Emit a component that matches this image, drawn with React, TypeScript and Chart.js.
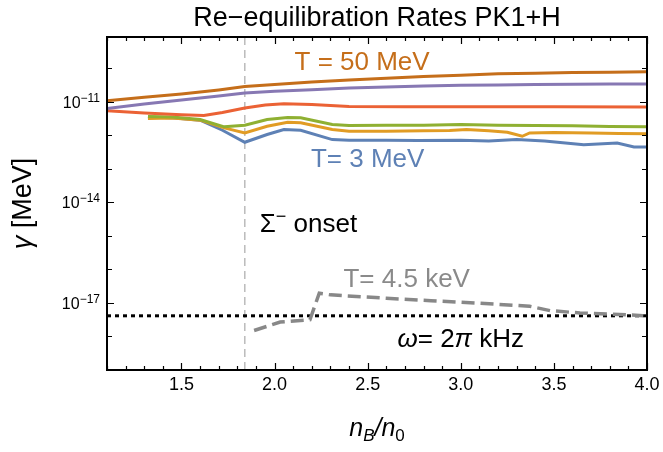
import React, { useEffect, useRef } from 'react';
import { Chart, registerables } from 'chart.js';

Chart.register(...registerables);

const FONT = '"Liberation Sans", Arial, Helvetica, sans-serif';

// ---- data (x = n_B/n_0, y = gamma [MeV]) ----
const brownX = [1.1, 1.3, 1.5, 1.7, 1.84, 2.0, 2.2, 2.4, 2.6, 2.8, 3.0, 3.2, 3.4, 3.6, 3.8, 4.0];
const brownY = [1.07e-11, 1.35e-11, 1.7e-11, 2.24e-11, 2.82e-11, 3.24e-11, 3.89e-11, 4.47e-11, 5.01e-11, 5.62e-11, 6.17e-11, 6.76e-11, 7.08e-11, 7.41e-11, 7.59e-11, 7.76e-11];

const purpleX = [1.1, 1.3, 1.5, 1.7, 1.84, 2.0, 2.2, 2.4, 2.6, 2.8, 3.0, 3.2, 3.4, 3.6, 3.8, 4.0];
const purpleY = [6.31e-12, 8.51e-12, 1.12e-11, 1.48e-11, 1.82e-11, 2.04e-11, 2.29e-11, 2.57e-11, 2.75e-11, 2.95e-11, 3.09e-11, 3.16e-11, 3.24e-11, 3.31e-11, 3.39e-11, 3.39e-11];

const redX = [1.1, 1.3, 1.5, 1.62, 1.72, 1.84, 1.95, 2.05, 2.2, 2.4, 2.7, 3.0, 3.5, 4.0];
const redY = [5.37e-12, 4.57e-12, 4.07e-12, 3.89e-12, 4.79e-12, 6.46e-12, 7.94e-12, 8.71e-12, 8.32e-12, 7.24e-12, 7.08e-12, 7.08e-12, 7.08e-12, 6.92e-12];

const greenX = [1.32, 1.45, 1.6, 1.73, 1.84, 1.96, 2.07, 2.14, 2.31, 2.4, 2.6, 2.8, 3.0, 3.2, 3.4, 3.6, 3.8, 4.0];
const greenY = [3.63e-12, 3.47e-12, 2.95e-12, 1.78e-12, 2.0e-12, 2.95e-12, 3.39e-12, 3.31e-12, 2.09e-12, 1.95e-12, 2.0e-12, 2.0e-12, 2.09e-12, 2.0e-12, 1.95e-12, 1.91e-12, 1.82e-12, 1.78e-12];

const orangeX = [1.32, 1.45, 1.6, 1.73, 1.84, 1.96, 2.07, 2.14, 2.31, 2.4, 2.6, 2.8, 2.94, 3.03, 3.15, 3.25, 3.33, 3.37, 3.5, 3.7, 3.85, 4.0];
const orangeY = [3.16e-12, 3.24e-12, 2.82e-12, 1.66e-12, 1.17e-12, 1.86e-12, 2.45e-12, 2.34e-12, 1.48e-12, 1.32e-12, 1.32e-12, 1.35e-12, 1.38e-12, 1.48e-12, 1.35e-12, 1.23e-12, 9.33e-13, 1.17e-12, 1.2e-12, 1.17e-12, 1.12e-12, 1.1e-12];

const blueX = [1.32, 1.45, 1.6, 1.72, 1.84, 1.96, 2.05, 2.14, 2.31, 2.4, 2.6, 2.77, 3.0, 3.15, 3.3, 3.45, 3.66, 3.84, 3.93, 4.0];
const blueY = [3.47e-12, 3.31e-12, 2.82e-12, 1.41e-12, 6.17e-13, 1.05e-12, 1.48e-12, 1.41e-12, 7.41e-13, 7.08e-13, 7.08e-13, 6.92e-13, 7.08e-13, 6.76e-13, 7.41e-13, 6.76e-13, 5.25e-13, 5.89e-13, 4.47e-13, 4.47e-13];

const grayX = [1.89, 2.03, 2.19, 2.24, 2.3, 2.6, 2.84, 3.1, 3.37, 3.48, 3.64, 3.8, 3.98];
const grayY = [1.51e-18, 2.69e-18, 3.16e-18, 1.95e-17, 1.74e-17, 1.38e-17, 1.17e-17, 9.77e-18, 7.94e-18, 5.89e-18, 5.01e-18, 4.68e-18, 4.17e-18];

const omegaLevel = 4.13e-18; // hbar * 2pi kHz in MeV
const onsetX = 1.84;

const xMin = 1.1;
const xMax = 4.0;
const yMin = 1e-19;
const yMax = 8.5e-10;

const xMajorTicks = [1.5, 2.0, 2.5, 3.0, 3.5, 4.0];
const xTickLabels = ['1.5', '2.0', '2.5', '3.0', '3.5', '4.0'];
const yDecades = [-19, -18, -17, -16, -15, -14, -13, -12, -11, -10];
const yLabelExponents = [-11, -14, -17];

const colors = {
  brown: '#C56E1A',
  purple: '#8778B3',
  red: '#EB6235',
  green: '#8FB032',
  orange: '#E19C24',
  blue: '#5E81B5',
  gray: '#8a8a8a',
};

function pts(xs: number[], ys: number[]) {
  return xs.map((x, i) => ({ x, y: ys[i] }));
}

type Part = { t: string; size: number; italic?: boolean; dy?: number };

function drawParts(
  ctx: CanvasRenderingContext2D,
  parts: Part[],
  x: number,
  y: number,
  align: 'left' | 'center' | 'right',
  color: string
) {
  ctx.textAlign = 'left';
  ctx.textBaseline = 'alphabetic';
  ctx.fillStyle = color;
  const widths = parts.map((p) => {
    ctx.font = `${p.italic ? 'italic ' : ''}${p.size}px ${FONT}`;
    return ctx.measureText(p.t).width;
  });
  const total = widths.reduce((a, b) => a + b, 0);
  let cx = align === 'center' ? x - total / 2 : align === 'right' ? x - total : x;
  parts.forEach((p, i) => {
    ctx.font = `${p.italic ? 'italic ' : ''}${p.size}px ${FONT}`;
    ctx.fillText(p.t, cx, y + (p.dy || 0));
    cx += widths[i];
  });
}

const decorPlugin = {
  id: 'decor',
  afterDatasetsDraw(chart: any) {
    const { ctx, chartArea: a, scales } = chart;
    const xs = scales.x;
    const ys = scales.y;
    ctx.save();

    // frame
    ctx.strokeStyle = '#000';
    ctx.lineWidth = 2;
    ctx.strokeRect(a.left, a.top, a.right - a.left, a.bottom - a.top);

    // x ticks
    ctx.lineWidth = 1.2;
    for (let i = 11; i <= 40; i++) {
      const v = i / 10;
      const px = Math.round(xs.getPixelForValue(v)) + 0.5;
      const len = i % 5 === 0 ? 7 : 4;
      ctx.beginPath();
      ctx.moveTo(px, a.bottom);
      ctx.lineTo(px, a.bottom - len);
      ctx.moveTo(px, a.top);
      ctx.lineTo(px, a.top + len);
      ctx.stroke();
    }
    // y ticks
    yDecades.forEach((e) => {
      const py = Math.round(ys.getPixelForValue(Math.pow(10, e))) + 0.5;
      if (py < a.top + 1 || py > a.bottom - 1) return;
      const len = yLabelExponents.includes(e) ? 7 : 5;
      ctx.beginPath();
      ctx.moveTo(a.left, py);
      ctx.lineTo(a.left + len, py);
      ctx.moveTo(a.right, py);
      ctx.lineTo(a.right - len, py);
      ctx.stroke();
    });

    // x tick labels
    xMajorTicks.forEach((v, i) => {
      const px = xs.getPixelForValue(v);
      drawParts(ctx, [{ t: xTickLabels[i], size: 18 }], px, a.bottom + 20, 'center', '#000');
    });
    // y tick labels
    yLabelExponents.forEach((e) => {
      const py = ys.getPixelForValue(Math.pow(10, e));
      drawParts(
        ctx,
        [
          { t: '10', size: 16 },
          { t: '\u2212' + String(Math.abs(e)), size: 12, dy: -6 },
        ],
        a.left - 7,
        py + 6,
        'right',
        '#000'
      );
    });

    // title
    drawParts(ctx, [{ t: 'Re\u2212equilibration Rates PK1+H', size: 27 }], (a.left + a.right) / 2, 26, 'center', '#000');

    // axis titles
    drawParts(
      ctx,
      [
        { t: 'n', size: 25, italic: true },
        { t: 'B', size: 17, italic: true, dy: 5 },
        { t: '/', size: 25, italic: true },
        { t: 'n', size: 25, italic: true },
        { t: '0', size: 17, dy: 5 },
      ],
      (a.left + a.right) / 2,
      436,
      'center',
      '#000'
    );
    ctx.save();
    ctx.translate(31, (a.top + a.bottom) / 2);
    ctx.rotate(-Math.PI / 2);
    drawParts(
      ctx,
      [
        { t: '\u03B3', size: 27, italic: true },
        { t: ' [MeV]', size: 27 },
      ],
      0,
      0,
      'center',
      '#000'
    );
    ctx.restore();

    // annotations
    drawParts(ctx, [{ t: 'T = 50 MeV', size: 26 }], xs.getPixelForValue(2.47), 70, 'center', colors.brown);
    drawParts(ctx, [{ t: 'T= 3 MeV', size: 26 }], xs.getPixelForValue(2.5), 167, 'center', colors.blue);
    drawParts(
      ctx,
      [
        { t: '\u03A3', size: 26 },
        { t: '\u2212', size: 18, dy: -10 },
        { t: ' onset', size: 26 },
      ],
      xs.getPixelForValue(1.92),
      232,
      'left',
      '#000'
    );
    drawParts(ctx, [{ t: 'T= 4.5 keV', size: 26 }], xs.getPixelForValue(2.37), 287, 'left', colors.gray);
    drawParts(
      ctx,
      [
        { t: '\u03C9', size: 26, italic: true },
        { t: '= 2', size: 26 },
        { t: '\u03C0', size: 26, italic: true },
        { t: ' kHz', size: 26 },
      ],
      xs.getPixelForValue(2.66),
      347,
      'left',
      '#000'
    );

    ctx.restore();
  },
};

export default function App() {
  const canvasRef = useRef<HTMLCanvasElement | null>(null);

  useEffect(() => {
    document.body.style.margin = '0';
    const canvas = canvasRef.current;
    if (!canvas) return;
    const lineDs = (data: any, color: string, extra: any = {}) => ({
      data,
      borderColor: color,
      backgroundColor: color,
      borderWidth: 3,
      pointRadius: 0,
      tension: 0,
      fill: false,
      ...extra,
    });
    const chart = new Chart(canvas, {
      type: 'line',
      data: {
        datasets: [
          lineDs(pts(brownX, brownY), colors.brown),
          lineDs(pts(purpleX, purpleY), colors.purple),
          lineDs(pts(redX, redY), colors.red),
          lineDs(pts(greenX, greenY), colors.green),
          lineDs(pts(orangeX, orangeY), colors.orange),
          lineDs(pts(blueX, blueY), colors.blue),
          lineDs(pts(grayX, grayY), '#888888', { borderDash: [13, 6], borderWidth: 3.5 }),
          lineDs(pts([xMin, xMax], [omegaLevel, omegaLevel]), '#000000', { borderDash: [4, 4], borderWidth: 3 }),
          lineDs(pts([onsetX, onsetX], [yMin, yMax]), '#bbbbbb', { borderDash: [8, 5], borderWidth: 1.5 }),
        ],
      },
      options: {
        responsive: false,
        animation: false,
        maintainAspectRatio: false,
        layout: { padding: { left: 107, right: 16, top: 37, bottom: 82 } },
        plugins: { legend: { display: false }, tooltip: { enabled: false }, title: { display: false } },
        scales: {
          x: { type: 'linear', min: xMin, max: xMax, display: false },
          y: { type: 'logarithmic', min: yMin, max: yMax, display: false },
        },
      },
      plugins: [decorPlugin],
    });
    return () => chart.destroy();
  }, []);

  return (
    <div style={{ position: 'absolute', left: 0, top: 0, width: 663, height: 452, background: '#fff' }}>
      <canvas ref={canvasRef} width={663} height={452} />
    </div>
  );
}
